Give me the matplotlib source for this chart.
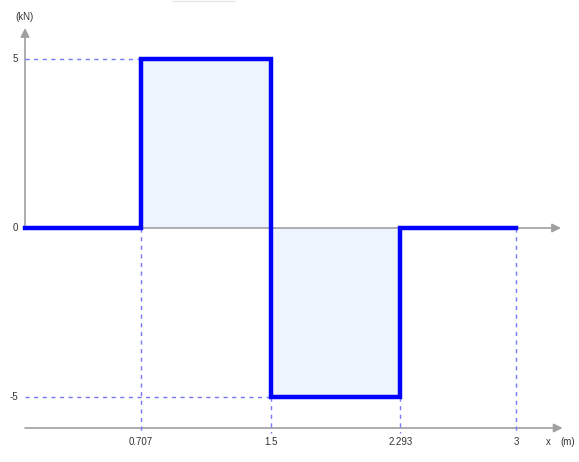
import numpy as np
import matplotlib.pyplot as plt

# --- DATA ---
x_points = [0, 0.707, 1.5, 2.293, 3]          # section boundaries (m)
shear = [0, 5, -5, 0]                          # shear force per segment (kN)
x_tick_labels = ['0.707', '1.5', '2.293', '3']
y_ticks = [5, 0, -5]
y_tick_labels = ['5', '0', '-5']

# --- STYLE ---
axis_gray = '#a0a0a0'
dash_color = '#7878ff'
line_blue = '#0000ff'
fill_blue = '#eef4fd'
text_color = '#333333'

# pixel mapping: x=0 at px 25, 163.67 px/m ; y=0 at px 228, 33.7 px/kN
W, H = 579, 462
px_per_m = 163.67
px_per_kn = 33.7
x0_px, y0_px = 25, 228

fig = plt.figure(figsize=(W / 100, H / 100), dpi=100)
ax = fig.add_axes([0, 0, 1, 1])
ax.set_xlim(-x0_px / px_per_m, (W - x0_px) / px_per_m)
ax.set_ylim((y0_px - H) / px_per_kn, y0_px / px_per_kn)
ax.axis('off')

y_bottom = (y0_px - 428) / px_per_kn
y_top_tip = (y0_px - 28) / px_per_kn
y_bot_tip = (y0_px - 463) / px_per_kn
x_right_tip = (561 - x0_px) / px_per_m
dash = (0, (3, 3.2))

# --- filled areas ---
for i, v in enumerate(shear):
    if v != 0:
        ax.fill_between([x_points[i], x_points[i + 1]], 0, v, color=fill_blue, lw=0, zorder=1)

# --- axes lines with arrows ---
arrow_kw = dict(arrowstyle='-|>', color=axis_gray, lw=1.2, mutation_scale=13, shrinkA=0, shrinkB=0)
ax.annotate('', xy=(0, y_top_tip), xytext=(0, 0), arrowprops=arrow_kw, zorder=2)
ax.annotate('', xy=(0, y_bot_tip), xytext=(0, 0), arrowprops=arrow_kw, zorder=2)
ax.annotate('', xy=(x_right_tip, 0), xytext=(0, 0), arrowprops=arrow_kw, zorder=2)
ax.annotate('', xy=(x_right_tip + 0.01, y_bottom), xytext=(0, y_bottom), arrowprops=arrow_kw, zorder=2)

# --- dashed guide lines ---
ax.plot([0, x_points[1]], [5, 5], color=dash_color, lw=1, ls=dash, zorder=2)
ax.plot([0, x_points[2]], [-5, -5], color=dash_color, lw=1, ls=dash, zorder=2)
y_dash_end = y_bottom - 5 / px_per_kn
ax.plot([x_points[1]] * 2, [0, y_dash_end], color=dash_color, lw=1, ls=dash, zorder=2)
ax.plot([x_points[2]] * 2, [-5, y_dash_end], color=dash_color, lw=1, ls=dash, zorder=2)
ax.plot([x_points[3]] * 2, [-5, y_dash_end], color=dash_color, lw=1, ls=dash, zorder=2)
ax.plot([x_points[4]] * 2, [0, y_dash_end], color=dash_color, lw=1, ls=dash, zorder=2)

# --- shear force line ---
xs = [x_points[0]]
ys = [shear[0]]
for i, v in enumerate(shear):
    xs += [x_points[i], x_points[i + 1]]
    ys += [v, v]
ax.plot(xs, ys, color=line_blue, lw=3.2, solid_joinstyle='miter', zorder=3)

# --- tick labels ---
font = dict(family=['Liberation Sans', 'DejaVu Sans'], fontsize=7, color=text_color)
for yt, lab in zip(y_ticks, y_tick_labels):
    ax.text(-7 / px_per_m, yt, lab, ha='right', va='center', **font)
y_lab = (y0_px - 442) / px_per_kn
for xt, lab in zip(x_points[1:], x_tick_labels):
    ax.text(xt, y_lab, lab, ha='center', va='center', **font)
ax.text((548 - x0_px) / px_per_m, y_lab, 'x', ha='center', va='center', **font)
ax.text((568 - x0_px) / px_per_m, y_lab, '(m)', ha='center', va='center', **font)
ax.text(0, (y0_px - 17) / px_per_kn, '(kN)', ha='center', va='center', **font)

# faint strip at the top edge
fig.add_artist(plt.Line2D([172 / W, 235 / W], [1 - 0.5 / H, 1 - 0.5 / H], color='#e4e4e4', lw=0.8))

plt.savefig('out.png', dpi=100)
